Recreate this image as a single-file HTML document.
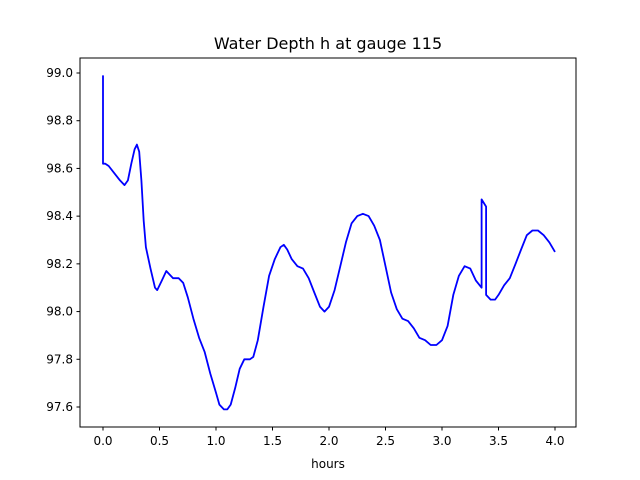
<!DOCTYPE html>
<html><head><meta charset="utf-8"><style>
body{margin:0;background:#fff;}
svg{display:block;font-family:"DejaVu Sans","Liberation Sans",sans-serif;}
</style></head><body>
<svg id="chart" width="640" height="480">
<rect width="640" height="480" fill="#fff"/>
<text x="328" y="49" font-size="16" text-anchor="middle">Water Depth h at gauge 115</text>
<g id="plot"></g>
<rect x="80" y="58" width="496" height="369" fill="none" stroke="#000" stroke-width="1"/>
<text x="328" y="468" font-size="12" text-anchor="middle">hours</text>
</svg>
<script>
const xTicks=[0,0.5,1,1.5,2,2.5,3,3.5,4];
const xTickLabels=["0.0","0.5","1.0","1.5","2.0","2.5","3.0","3.5","4.0"];
const yTicks=[97.6,97.8,98.0,98.2,98.4,98.6,98.8,99.0];
const yTickLabels=["97.6","97.8","98.0","98.2","98.4","98.6","98.8","99.0"];
const hours=[0,0,0.02,0.05,0.1,0.15,0.19,0.22,0.25,0.28,0.30,0.32,0.34,0.36,0.38,0.42,0.46,0.48,0.52,0.56,0.58,0.62,0.67,0.71,0.75,0.8,0.85,0.9,0.95,1.0,1.03,1.07,1.1,1.13,1.17,1.21,1.25,1.3,1.33,1.37,1.42,1.47,1.52,1.57,1.6,1.63,1.67,1.72,1.77,1.82,1.87,1.92,1.96,2.0,2.05,2.1,2.15,2.2,2.25,2.3,2.35,2.4,2.45,2.5,2.55,2.6,2.65,2.7,2.75,2.8,2.85,2.9,2.95,3.0,3.05,3.1,3.15,3.2,3.25,3.3,3.35,3.35,3.39,3.39,3.43,3.47,3.5,3.55,3.6,3.65,3.7,3.75,3.8,3.85,3.9,3.95,4.0];
const depth=[98.99,98.62,98.62,98.61,98.58,98.55,98.53,98.55,98.62,98.68,98.70,98.67,98.55,98.38,98.27,98.18,98.10,98.09,98.13,98.17,98.16,98.14,98.14,98.12,98.06,97.97,97.89,97.83,97.74,97.66,97.61,97.59,97.59,97.61,97.68,97.76,97.80,97.80,97.81,97.88,98.02,98.15,98.22,98.27,98.28,98.26,98.22,98.19,98.18,98.14,98.08,98.02,98.00,98.02,98.09,98.19,98.29,98.37,98.40,98.41,98.40,98.36,98.30,98.19,98.08,98.01,97.97,97.96,97.93,97.89,97.88,97.86,97.86,97.88,97.94,98.07,98.15,98.19,98.18,98.13,98.10,98.47,98.44,98.07,98.05,98.05,98.07,98.11,98.14,98.20,98.26,98.32,98.34,98.34,98.32,98.29,98.25];
const X=v=>103+v*113;
const Y=v=>73+(99.0-v)/0.2*47.714;
const g=document.getElementById('plot');
const NS='http://www.w3.org/2000/svg';
function mk(t,a){const e=document.createElementNS(NS,t);for(const k in a)e.setAttribute(k,a[k]);g.appendChild(e);return e;}
xTicks.forEach((v,i)=>{
  const l=mk('line',{x1:X(v),x2:X(v),y1:427,y2:430.5,stroke:'#000'});
  
  
  const t=mk('text',{x:X(v),y:445,'font-size':12,'text-anchor':'middle'});
  t.textContent=xTickLabels[i];
  
  
});
yTicks.forEach((v,i)=>{
  const l=mk('line',{x1:76.5,x2:80,y1:Y(v),y2:Y(v),stroke:'#000'});
  
  
  const t=mk('text',{x:73,y:Y(v)+4,'font-size':12,'text-anchor':'end'});
  t.textContent=yTickLabels[i];
  
  
});
const pts=hours.map((h,i)=>X(h).toFixed(1)+','+Y(depth[i]).toFixed(1)).join(' ');
const p=mk('polyline',{points:pts,fill:'none',stroke:'#0000ff','stroke-width':1.8,'stroke-linejoin':'round'});


</script>
</body></html>
